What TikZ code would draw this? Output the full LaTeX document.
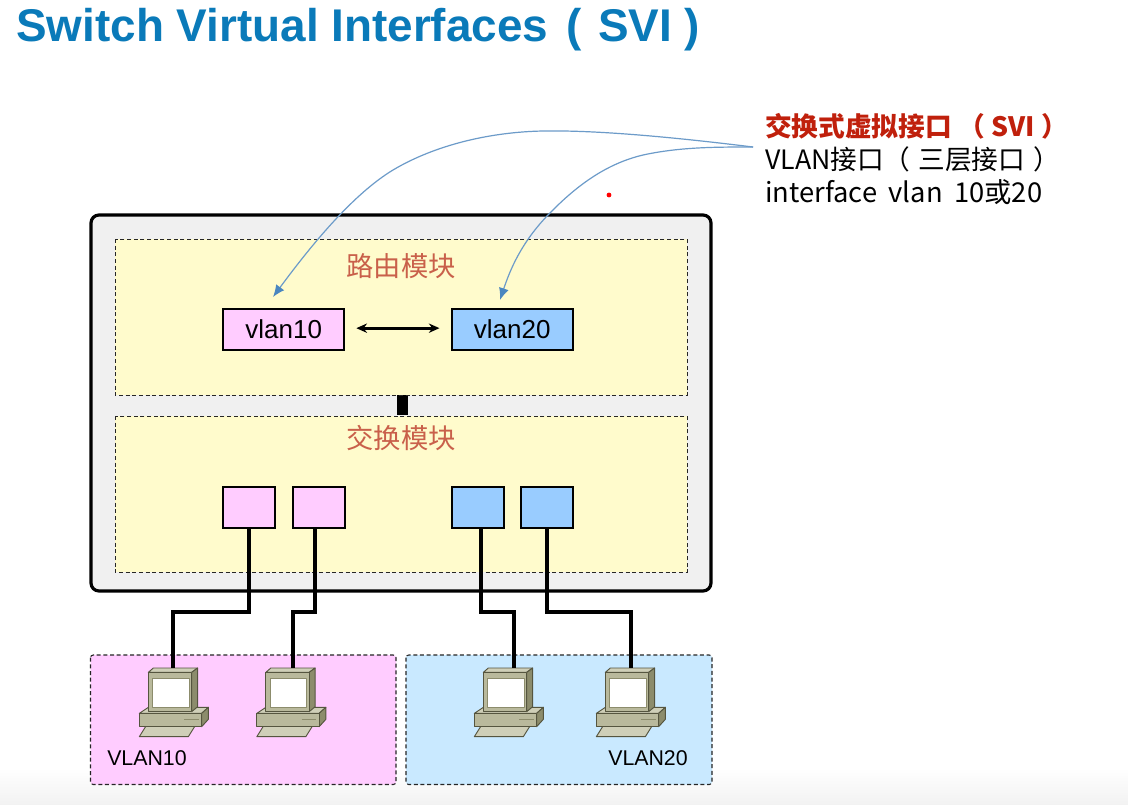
\documentclass[tikz,border=0pt]{standalone}
\usepackage{fontspec}
\setmainfont{Liberation Sans}
\newfontfamily\cjk{Noto Sans CJK SC}
\usetikzlibrary{arrows.meta,calc}
\definecolor{titleblue}{HTML}{0A7AB9}
\definecolor{boxgray}{HTML}{F0F0F0}
\definecolor{modyellow}{HTML}{FFFBCC}
\definecolor{vpink}{HTML}{FFCCFF}
\definecolor{vblue}{HTML}{99CCFF}
\definecolor{lightblue}{HTML}{C9E9FF}
\definecolor{modred}{HTML}{C9604A}
\definecolor{svired}{HTML}{C0200C}
\definecolor{curve}{HTML}{6C9BC9}
\definecolor{arrowblue}{HTML}{4A86C0}
\definecolor{pcfront}{HTML}{B9B99C}
\definecolor{pctop}{HTML}{CFCFB8}
\definecolor{pcside}{HTML}{8C8C6C}
\definecolor{pcline}{HTML}{55553F}
\tikzset{
  x=0.75pt,y=-0.75pt,
  module/.style={draw=black!85,dash pattern=on 3pt off 2pt,line width=0.6pt,fill=modyellow},
  group/.style={draw=black!85,dash pattern=on 3pt off 2pt,line width=0.8pt,rounded corners=2pt},
  vbox/.style={draw=black,line width=1.5pt,minimum width=91pt,minimum height=31pt,inner sep=0pt,font=\fontsize{19.5}{21}\selectfont,anchor=north west,outer sep=0pt},
  portbox/.style={draw=black,line width=1.5pt,minimum width=39pt,minimum height=31pt,inner sep=0pt,anchor=north west,outer sep=0pt},
  wire/.style={draw=black,line width=2.6pt},
  svi/.style={draw=curve,line width=0.9pt,-{Latex[length=9pt,width=7.5pt,color=arrowblue]}},
  modlabel/.style={text=modred,font=\cjk\fontsize{20.5}{22}\selectfont,inner sep=0pt},
  sidetext/.style={anchor=west,inner sep=0pt,font=\cjk\fontsize{20}{24}\selectfont},
  pics/computer/.style={code={
    \begin{scope}[scale=1/3,line width=0.7pt,draw=pcline,line join=round]
      \filldraw[fill=pctop] (148,290)--(168,258)--(315,258)--(295,290)--cycle;
      \filldraw[fill=pctop] (148,220)--(175,202)--(355,202)--(335,220)--cycle;
      \filldraw[fill=pcside] (335,220)--(355,202)--(355,238)--(335,260)--cycle;
      \filldraw[fill=pcfront] (148,220) rectangle (335,260);
      \draw[line width=1.2pt,draw=pcside] (282,238)--(326,238);
      \filldraw[fill=pctop] (175,97)--(190,84)--(323,84)--(305,97)--cycle;
      \filldraw[fill=pcside] (305,97)--(323,84)--(323,200)--(305,215)--cycle;
      \filldraw[fill=pcfront] (175,97) rectangle (305,215);
      \filldraw[fill=white,draw=pcside] (188,114) rectangle (297,202);
    \end{scope}
  }}
}
\begin{document}
\begin{tikzpicture}
\useasboundingbox (0,0) rectangle (1128,804);
\fill[white] (0,0) rectangle (1128,804);
\shade[top color=white,bottom color=black!5] (0,768) rectangle (1128,804);

\node[anchor=west,inner sep=0pt,text=titleblue,font=\bfseries\fontsize{34.4}{36}\selectfont] (title) at (16,29.5) {Switch Virtual Interfaces\hspace{14pt}(\hspace{12pt}SVI\hspace{9pt})};

\node[sidetext,text=svired,font=\cjk\bfseries\fontsize{20}{24}\selectfont] (t1) at (765,126) {交换式虚拟接口 （\hspace{5pt}SVI\hspace{5pt}）};
\node[sidetext] (t2) at (765,159) {VLAN接口（\hspace{6pt}三层接口\hspace{6pt}）};
\node[sidetext,font=\cjk\fontsize{20.5}{24}\selectfont] (t3) at (765,192) {interface\hspace{4pt} vlan\hspace{4pt} 10或20};
\coordinate (svifrom) at (753,147);
\fill[red] (609,195) circle (1.8pt);

\draw[line width=2.4pt,fill=boxgray,rounded corners=6pt] (91,215) rectangle (711,591);
\fill[black] (397,395) rectangle (408,415);
\draw[module] (115,239) rectangle (687,395);
\draw[module] (115,416) rectangle (687,572);
\node[modlabel] (m1) at (401,266) {路由模块};
\node[modlabel] (m2) at (401,438) {交换模块};

\node[vbox,fill=vpink] (v10) at (223,308.5) {vlan10};
\node[vbox,fill=vblue] (v20) at (451.5,308.5) {vlan20};
\draw[line width=2.1pt,{Stealth[length=8pt,width=7pt]}-{Stealth[length=8pt,width=7pt]}] ($(v10.east)+(12,-1)$) -- ($(v20.west)+(-12,-1)$);

\draw[svi] (svifrom) .. controls (680,138) and (600,130) .. (543,131) .. controls (490,132) and (435,145) .. (393,170) .. controls (355,193) and (315,240) .. (273,297);
\draw[svi] (svifrom) .. controls (715,147) and (680,147) .. (643,155) .. controls (605,164) and (575,187) .. (548,215) .. controls (521,243) and (510,270) .. (500,300);

\node[portbox,fill=vpink] (p1) at (223,487) {};
\node[portbox,fill=vpink] (p2) at (292.5,487) {};
\node[portbox,fill=vblue] (p3) at (451.5,487) {};
\node[portbox,fill=vblue] (p4) at (521,487) {};

\draw[group,fill=vpink] (90.5,655) rectangle (396,784.5);
\draw[group,fill=lightblue] (406,655) rectangle (712,784.5);
\node[inner sep=0pt,anchor=west,font=\fontsize{16}{18}\selectfont] (l10) at (107,758.5) {VLAN10};
\node[inner sep=0pt,anchor=west,font=\fontsize{16}{18}\selectfont] (l20) at (608,758.5) {VLAN20};

\pic at (90,640) {computer};
\pic at (207.5,640) {computer};
\pic at (425,640) {computer};
\pic at (547,640) {computer};
\coordinate (c1) at (173,668);
\coordinate (c2) at (293,668);
\coordinate (c3) at (514,668);
\coordinate (c4) at (631,668);

\coordinate (b1) at (249,612);
\coordinate (b2) at (315,612);
\coordinate (b3) at (481,612);
\coordinate (b4) at (547,612);
\draw[wire] (p1.south -| b1) -- (b1) -| (c1);
\draw[wire] (p2.south -| b2) -- (b2) -| (c2);
\draw[wire] (p3.south -| b3) -- (b3) -| (c3);
\draw[wire] (p4.south -| b4) -- (b4) -| (c4);
\end{tikzpicture}
\end{document}
